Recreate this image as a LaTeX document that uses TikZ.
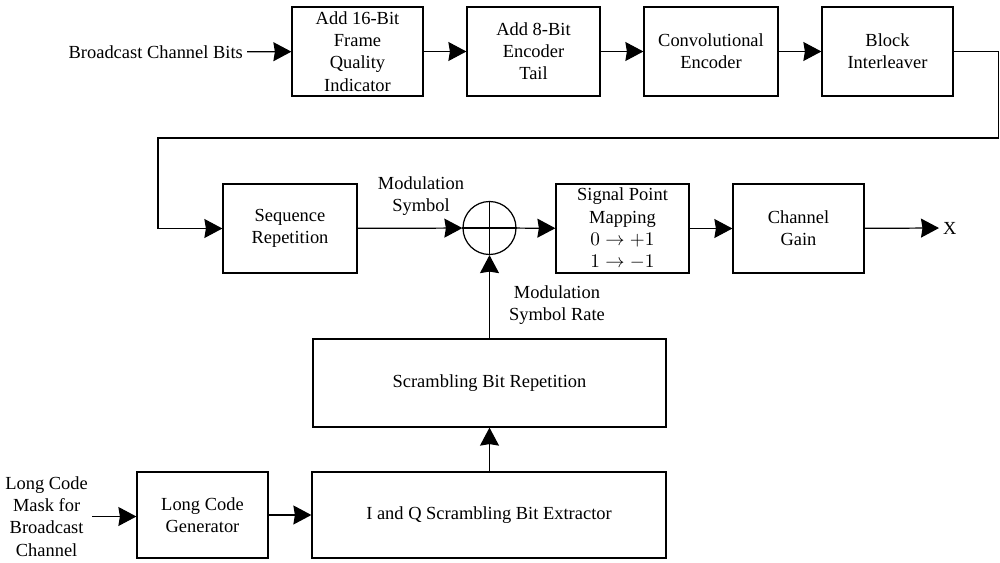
\documentclass[tikz,border=0pt]{standalone}
\usepackage{fontspec}
\setmainfont{Liberation Serif}
\usetikzlibrary{arrows.meta}
\begin{document}
\begin{tikzpicture}[
  line width=0.7pt,
  font=\fontsize{10.5}{12.6}\selectfont,
  blk/.style={draw, rectangle, align=center, inner sep=1pt,
              minimum width=#1, minimum height=1.78cm},
  blk/.default=2.64cm,
  lbl/.style={align=center, inner sep=2pt},
  sig/.style={-{Stealth[length=0.36cm,width=0.38cm,inset=0.03cm]}},
  summer/.style={draw, circle, minimum size=1.06cm, inner sep=0pt}
]
\useasboundingbox (0,0) rectangle (20,-11.26);

% upper chain
\node[lbl, anchor=east] (src) at (4.94,-1.04) {Broadcast Channel Bits};
\node[blk=2.62cm] (fqi) at (7.15,-1.03) {Add 16-Bit\\Frame\\Quality\\Indicator};
\node[blk=2.66cm] (tail) at (10.67,-1.03) {Add 8-Bit\\Encoder\\Tail};
\node[blk=2.68cm] (conv) at (14.22,-1.03) {Convolutional\\Encoder};
\node[blk=2.62cm] (intl) at (17.75,-1.03) {Block\\Interleaver};

% middle chain
\node[blk=2.68cm] (seq) at (5.80,-4.57) {Sequence\\Repetition};
\node[summer] (sum) at (9.79,-4.56) {};
\draw (sum.north) -- (sum.south) (sum.west) -- (sum.east);
\node[blk=2.66cm] (spm) at (12.45,-4.57) {Signal Point\\Mapping\\$0\rightarrow{+1}$\\$1\rightarrow{-1}$};
\node[blk=2.62cm] (gain) at (15.97,-4.57) {Channel\\Gain};
\node[lbl, anchor=west] (out) at (18.78,-4.56) {X};

% scrambling branch
\node[blk=7.06cm, minimum height=1.76cm] (rep) at (9.79,-7.66) {Scrambling Bit Repetition};
\node[blk=7.08cm, minimum height=1.72cm] (ext) at (9.78,-10.30) {I and Q Scrambling Bit Extractor};
\node[blk=2.62cm, minimum height=1.72cm] (lcg) at (4.05,-10.30) {Long Code\\Generator};
\node[lbl, anchor=east, inner sep=2pt] (mask) at (1.84,-10.33) {Long Code\\Mask for\\Broadcast\\Channel};

% annotations
\node[lbl] (modsym) at (8.42,-3.93) {Modulation\\Symbol};
\node[lbl] (modrate) at (11.14,-6.10) {Modulation\\Symbol Rate};

% connectors
\draw[sig] (src) -- (fqi);
\draw[sig] (fqi) -- (tail);
\draw[sig] (tail) -- (conv);
\draw[sig] (conv) -- (intl);
\draw[sig] (intl.east) -- ++(0.89,0) |- (3.16,-2.76) |- (seq.west);
\draw[sig] (seq) -- (sum);
\draw[sig] (sum) -- (spm);
\draw[sig] (spm) -- (gain);
\draw[sig] (gain) -- (out);
\draw[sig] (rep.north -| sum.south) -- (sum.south);
\draw[sig] (ext.north -| sum.south) -- (rep.south -| sum.south);
\draw[sig] (mask.east) -- (lcg.west |- mask.east);
\draw[sig] (lcg) -- (ext);
\end{tikzpicture}
\end{document}
